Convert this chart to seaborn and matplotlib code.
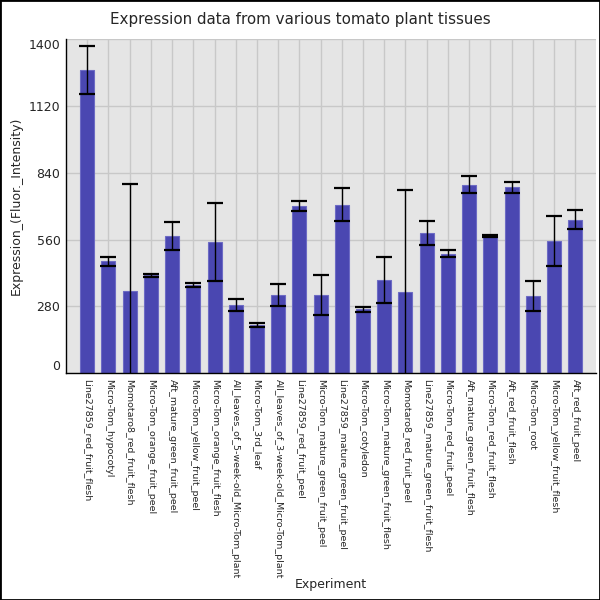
import matplotlib
matplotlib.use("Agg")
import matplotlib.pyplot as plt
import seaborn as sns
import pandas as pd
import numpy as np
from matplotlib.patches import Rectangle

experiments = [
    "Line27859_red_fruit_flesh", "Micro-Tom_hypocotyl", "Momotaro8_red_fruit_flesh",
    "Micro-Tom_orange_fruit_peel", "Aft_mature_green_fruit_peel", "Micro-Tom_yellow_fruit_peel",
    "Micro-Tom_orange_fruit_flesh", "All_leaves_of_5-week-old_Micro-Tom_plant", "Micro-Tom_3rd_leaf",
    "All_leaves_of_3-week-old_Micro-Tom_plant", "Line27859_red_fruit_peel",
    "Micro-Tom_mature_green_fruit_peel", "Line27859_mature_green_fruit_peel", "Micro-Tom_cotyledon",
    "Micro-Tom_mature_green_fruit_flesh", "Momotaro8_red_fruit_peel",
    "Line27859_mature_green_fruit_flesh", "Micro-Tom_red_fruit_peel", "Aft_mature_green_fruit_flesh",
    "Micro-Tom_red_fruit_flesh", "Aft_red_fruit_flesh", "Micro-Tom_root",
    "Micro-Tom_yellow_fruit_flesh", "Aft_red_fruit_peel",
]
expression = [1270, 468, 343, 410, 575, 368, 550, 286, 202, 328, 700, 328, 705, 268,
              390, 340, 588, 500, 790, 575, 778, 323, 553, 643]
errors = [100, 20, 450, 5, 57, 8, 162, 25, 7, 45, 22, 85, 69, 10,
          97, 428, 49, 15, 35, 3, 23, 63, 105, 39]
y_ticks = [0, 280, 560, 840, 1120, 1400]

df = pd.DataFrame({"Experiment": experiments, "Expression": expression, "err": errors})

sns.set_theme(style="whitegrid")
plt.rcParams["font.family"] = ["DejaVu Sans"]

fig = plt.figure(figsize=(6, 6), dpi=100)
ax = fig.add_axes([0.11, 0.378, 0.884, 0.557])
ax.set_facecolor("#e5e5e5")

sns.barplot(data=df, x="Experiment", y="Expression", ax=ax, color="#4a47b1",
            saturation=1, width=0.66, errorbar=None, edgecolor="#6d6bc4", linewidth=0.8)
ax.errorbar(np.arange(len(experiments)), df["Expression"], yerr=df["err"], fmt="none",
            ecolor="black", elinewidth=1, capsize=6, capthick=1.6, zorder=5)

ax.set_xlim(-1, len(experiments))
ax.set_ylim(0, 1400)
ax.set_yticks(y_ticks)
ax.set_yticklabels([str(v) for v in y_ticks], fontsize=9)
ax.tick_params(axis="x", labelsize=6.8, length=0, pad=4)
ax.tick_params(axis="y", length=0, pad=4)
for lbl in ax.get_xticklabels():
    lbl.set_rotation(-90)
    lbl.set_ha("center")
    lbl.set_va("top")
ylbls = ax.get_yticklabels()
ylbls[0].set_va("bottom")
ylbls[-1].set_va("top")

ax.grid(True, color="#c8c8c8", linewidth=1)
ax.set_axisbelow(True)
for side in ["top", "right"]:
    ax.spines[side].set_visible(False)
for side in ["left", "bottom"]:
    ax.spines[side].set_color("black")
    ax.spines[side].set_linewidth(1)

ax.set_xlabel("Experiment", fontsize=9, va="top")
ax.xaxis.set_label_coords(0.5, -0.614)
ax.set_ylabel("Expression_(Fluor._Intensity)", fontsize=9)
fig.suptitle("Expression data from various tomato plant tissues", fontsize=10.9, y=0.98)

fig.patches.append(Rectangle((0, 0), 1, 1, transform=fig.transFigure, fill=False,
                             edgecolor="black", linewidth=2))
fig.savefig("out.png", dpi=100)
